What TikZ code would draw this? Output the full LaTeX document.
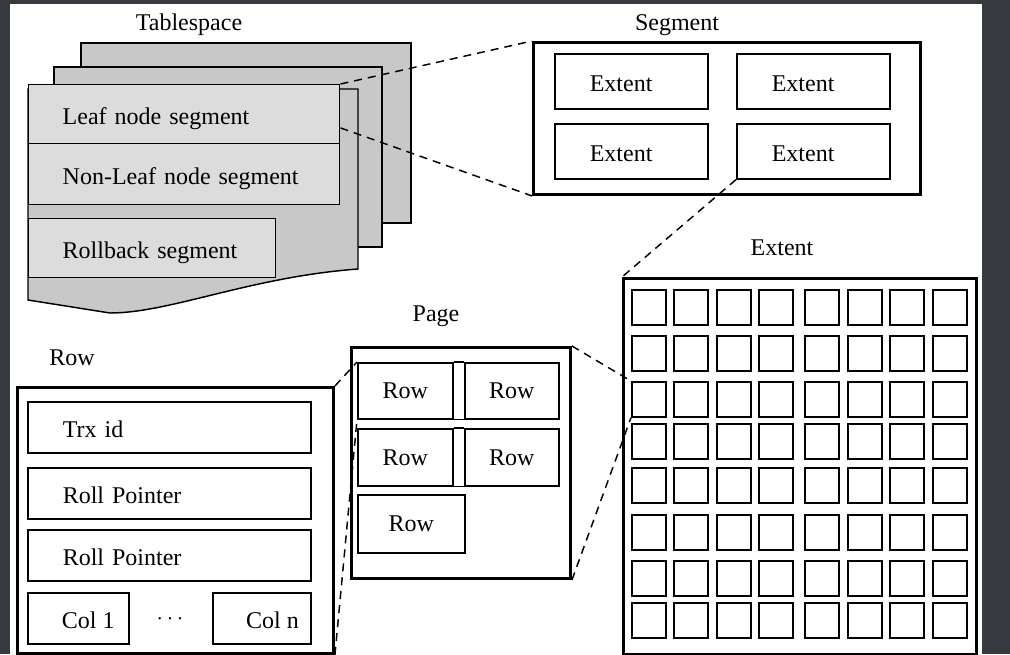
\documentclass[tikz,border=0pt]{standalone}
\usepackage{fontspec}
\setmainfont{Liberation Serif}
\usepackage{tikz}

\definecolor{darkbg}{HTML}{373A3E}
\definecolor{sheetgray}{HTML}{C8C8C8}
\definecolor{boxgray}{HTML}{DCDCDC}

\begin{document}
\begin{tikzpicture}
      [
      x=0.75pt, y=-0.75pt,
      every node/.style={font=\fontsize{18}{22}\selectfont},
      heading/.style={anchor=base},
      low/.style={text height=15pt,text depth=0pt},
      sheet/.style={draw,fill=sheetgray,line width=1.1pt},
      segbox/.style={draw,fill=boxgray,line width=1.1pt,anchor=north west,align=left,inner xsep=25.5pt,minimum height=44.25pt,low},
      framebox/.style={draw,fill=white,line width=2.2pt,anchor=north west,inner sep=0pt},
      cellbox/.style={draw,line width=1.2pt,anchor=north west,inner sep=0pt},
      extbox/.style={cellbox,align=left,inner xsep=26.25pt,text width=62.25pt,minimum height=41.25pt,low},
      field/.style={cellbox,align=left,inner xsep=26.25pt,text width=159.75pt,minimum height=38.25pt,low},
      blk/.style={cellbox,minimum width=25.5pt,minimum height=26.25pt},
      zoomline/.style={line width=1.1pt,dash pattern=on 6pt off 4.5pt}
      ]
      \fill [darkbg] (0,0) rectangle (1010,654);
      \fill [white] (10,4) rectangle (982,654);
      \useasboundingbox (0,0) rectangle (1010,654);

      \node (tstitle) at (189,30) [heading] {Tablespace};
      \node (sgtitle) at (677,30) [heading] {Segment};
      \node (extitle) at (782,255) [heading] {Extent};
      \node (pgtitle) at (436,321) [heading] {Page};
      \node (rwtitle) at (72,365) [heading] {Row};

      \draw [sheet] (81,43) rectangle (411,223);
      \draw [sheet] (54,67) rectangle (382,247);
      \draw [sheet] (28,89) -- (358,89) -- (358,269) .. controls (250,277) and (170,313) .. (110,313) -- (28,300) -- cycle;
      \node (leaf) at (28,84) [segbox,text width=182.25pt] {Leaf node segment};
      \node (nonleaf) at (28,143) [segbox,text width=182.25pt,minimum height=45.75pt] {Non-Leaf node segment};
      \node (rollback) at (28,218) [segbox,text width=134.25pt] {Rollback segment};

      \node (segment) at (532,41) [framebox,minimum width=290.25pt,minimum height=114pt] {};
      \node (ext1) at (554,53) [extbox] {Extent};
      \node (ext2) at (736,53) [extbox] {Extent};
      \node (ext3) at (554,123) [extbox] {Extent};
      \node (ext4) at (736,123) [extbox] {Extent};

      \node (extent) at (622,277) [framebox,minimum width=264.75pt,minimum height=282pt] {};
      \foreach \y [count=\r] in {289,335,381,423,467,514,560,602}
        \foreach \x [count=\c] in {631,673,716,758,804,847,889,932}
          \node (b-\r-\c) at (\x,\y) [blk] {};

      \node (page) at (350,346) [framebox,minimum width=164.25pt,minimum height=173.25pt] {};
      \node (r11) at (357,362) [cellbox,minimum width=71.25pt,minimum height=42pt] {Row};
      \node (r12) at (464,362) [cellbox,minimum width=70.5pt,minimum height=42pt] {Row};
      \node (r21) at (357,428) [cellbox,minimum width=71.25pt,minimum height=42.75pt] {Row};
      \node (r22) at (464,428) [cellbox,minimum width=70.5pt,minimum height=42.75pt] {Row};
      \node (r31) at (357,494) [cellbox,minimum width=80.25pt,minimum height=43.5pt] {Row};
      \draw [line width=1.2pt] (r11.north east) -- (r12.north west) (r11.south east) -- (r12.south west);
      \draw [line width=1.2pt] (r21.north east) -- (r22.north west) (r21.south east) -- (r22.south west);

      \node (row) at (16,386) [framebox,minimum width=237pt,minimum height=199.5pt] {};
      \node (trx) at (27,401) [field] {Trx id};
      \node (roll1) at (27,467) [field] {Roll Pointer};
      \node (roll2) at (27,529) [field] {Roll Pointer};
      \node (col1) at (27,592) [cellbox,low,minimum width=75.75pt,minimum height=38.25pt] {\hspace*{15pt}Col 1};
      \node (coln) at (212,592) [cellbox,low,minimum width=73.5pt,minimum height=38.25pt] {\hspace*{16pt}Col n};
      \node (dots) at (170,619) {$\cdots$};

      \draw [zoomline] (leaf.north east) -- (segment.north west);
      \draw [zoomline] (leaf.-5) -- (segment.south west);
      \draw [zoomline] (ext4.south west) -- (extent.north west);
      \draw [zoomline] (page.north east) -- (b-3-1.north west);
      \draw [zoomline] (page.south east) -- (b-3-1.south west);
      \draw [zoomline] (row.north east) -- (r11.north west);
      \draw [zoomline] (row.south east) -- (r11.south west);
    \end{tikzpicture}
\end{document}
